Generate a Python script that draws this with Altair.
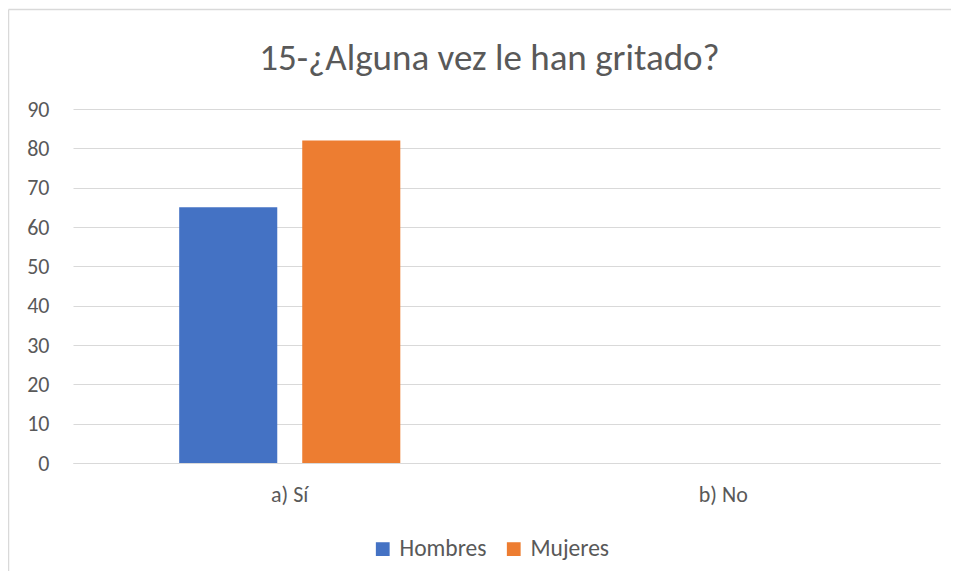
import altair as alt
import pandas as pd

categorias = ["a) Sí", "b) No"]
grupos = ["Hombres", "Mujeres"]
hombres = [65, 0]
mujeres = [82, 0]
y_ticks = [0, 10, 20, 30, 40, 50, 60, 70, 80, 90]
colores = ["#4472C4", "#ED7D31"]
titulo = "15-¿Alguna vez le han gritado?"

rows = []
for i, c in enumerate(categorias):
    rows.append({"cat": c, "grupo": "Hombres", "valor": hombres[i]})
    rows.append({"cat": c, "grupo": "Mujeres", "valor": mujeres[i]})
df = pd.DataFrame(rows)

FONT = "Carlito, Calibri, 'Liberation Sans', Arial, sans-serif"
GRID = "#D9D9D9"
TXT = "#595959"

bars = alt.Chart(df).mark_bar().encode(
    x=alt.X("cat:N", sort=categorias, title=None,
            scale=alt.Scale(paddingInner=0, paddingOuter=0),
            axis=alt.Axis(labelAngle=0, labelFontSize=22, labelColor=TXT, labelFont=FONT,
                          labelPadding=21, ticks=False, domainColor=GRID, domainWidth=1,
                          grid=False)),
    xOffset=alt.XOffset("grupo:N", sort=grupos,
                        scale=alt.Scale(paddingInner=0.203, paddingOuter=0.863)),
    y=alt.Y("valor:Q", scale=alt.Scale(domain=[0, 90], nice=False),
            axis=alt.Axis(values=y_ticks, title=None, domain=False, ticks=False,
                          gridColor=GRID, gridWidth=1, labelFontSize=22, labelColor=TXT,
                          labelFont=FONT, labelPadding=24)),
    color=alt.Color("grupo:N", sort=grupos,
                    scale=alt.Scale(domain=grupos, range=colores),
                    legend=alt.Legend(title=None, orient="none", legendX=298, legendY=428,
                                      direction="horizontal", symbolType="square",
                                      symbolSize=190, symbolStrokeWidth=0,
                                      labelFontSize=23.5, labelColor=TXT, labelFont=FONT,
                                      columnPadding=15, labelOffset=5, padding=0)),
)

frame_data = alt.Data(values=[{"k": 1}])
left_line = alt.Chart(frame_data).mark_rule(color=GRID, strokeWidth=1.5, clip=False).encode(
    x=alt.value(-64.5), y=alt.value(-99.5), y2=alt.value(470)
)
top_line = alt.Chart(frame_data).mark_rule(color=GRID, strokeWidth=1.5, clip=False).encode(
    x=alt.value(-64.5), x2=alt.value(880), y=alt.value(-99.5)
)

chart = alt.layer(left_line, top_line, bars).properties(
    width=867,
    height=354,
    title=alt.TitleParams(titulo, fontSize=37, color=TXT, font=FONT, fontWeight="normal",
                          anchor="middle", dx=-17, dy=69, offset=0),
    autosize=alt.AutoSizeParams(type="none"),
    padding={"left": 65, "top": 101, "right": 11, "bottom": 108},
    background="white",
).configure_view(stroke=None)

chart.save("out.html", embed_options={"renderer": "svg", "actions": False})
